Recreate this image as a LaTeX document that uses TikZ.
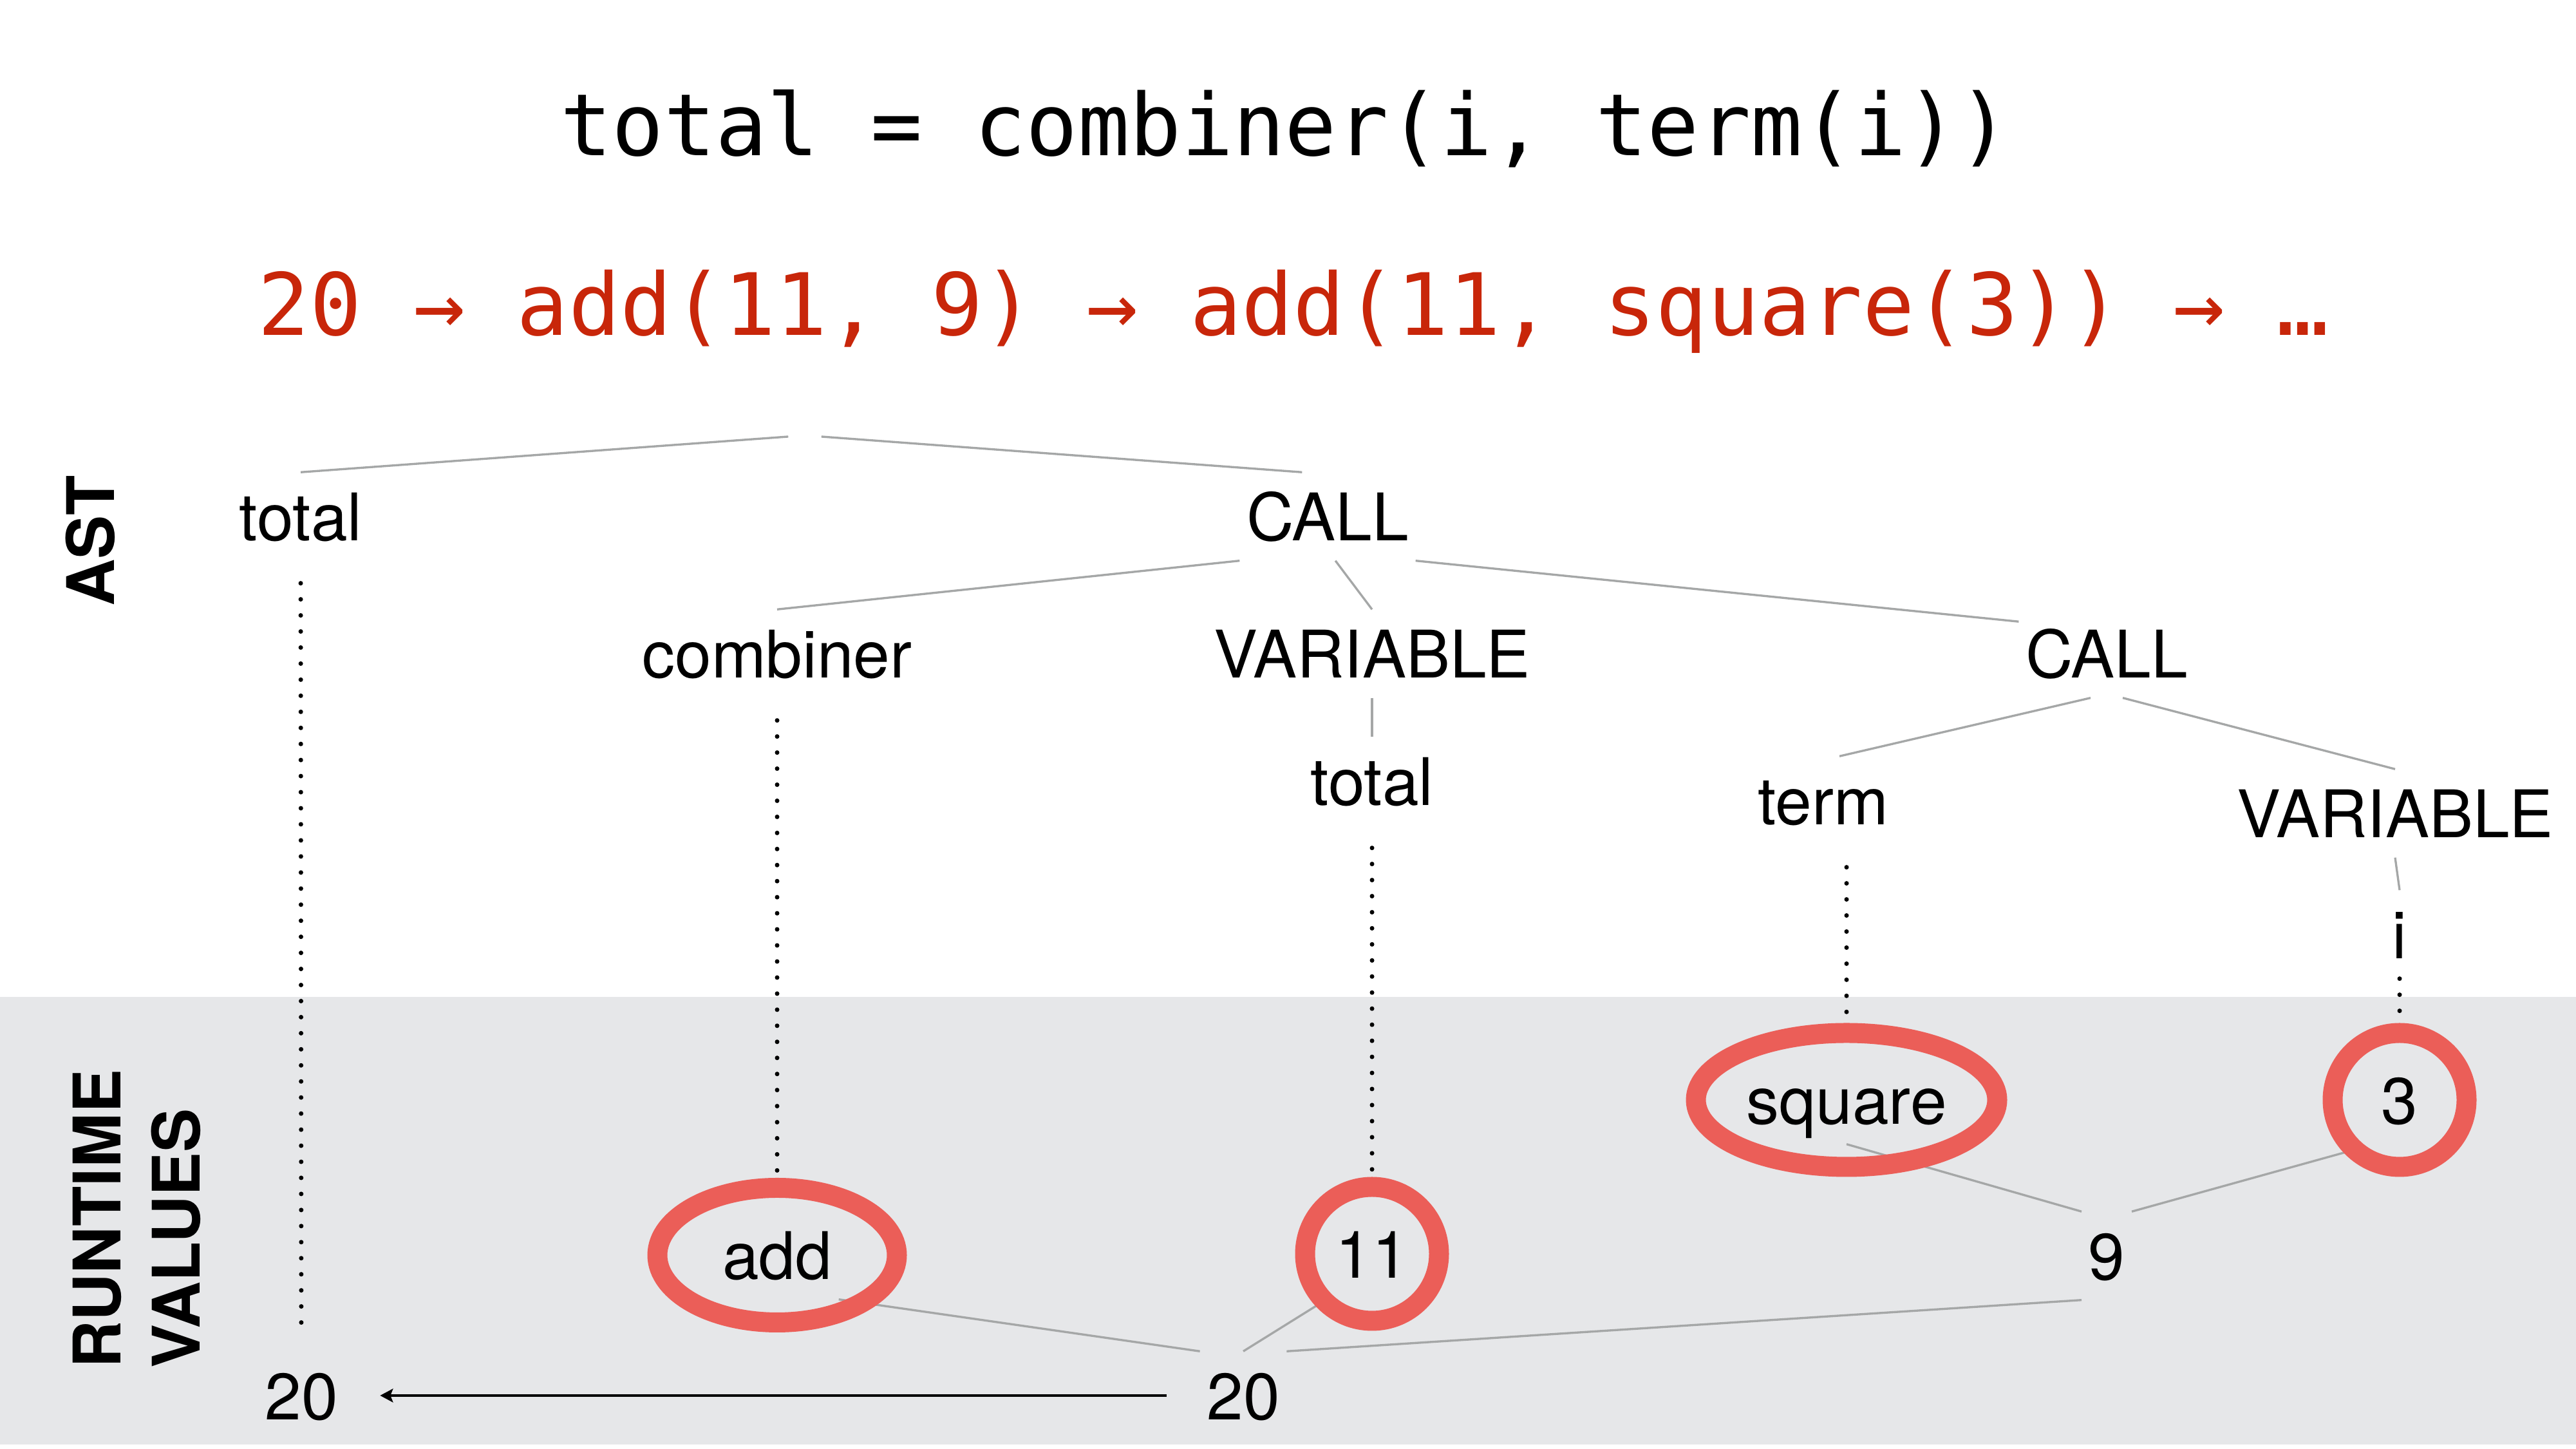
\documentclass[tikz,border=0pt]{standalone}
\usepackage{fontspec}
\setmainfont{TeX Gyre Heros}
\newfontfamily\codefont{DejaVu Sans Mono}
\usetikzlibrary{arrows.meta}

\definecolor{bandgray}{RGB}{230,231,233}
\definecolor{treegray}{RGB}{165,167,167}
\definecolor{ringred}{RGB}{235,94,88}
\definecolor{evalred}{RGB}{200,38,10}

\tikzset{
	lbl/.style={font=\fontsize{29}{35}\selectfont, anchor=base, inner xsep=0.1cm, inner ysep=0.3cm, text height=0.76cm, text depth=0cm},
	code/.style={font=\codefont\fontsize{38}{46}\selectfont, anchor=base, inner sep=0},
	side/.style={font=\fontsize{29}{35}\selectfont\bfseries, rotate=90, align=left, inner sep=0},
	edge/.style={draw=treegray, line width=0.95pt},
	link/.style={line width=2pt, line cap=round, dash pattern=on 0pt off 7.1pt, shorten <=0.35cm, shorten >=0.35cm},
	ring/.style={draw=ringred, line width=0.31cm},
	back/.style={line width=1.1pt, -{Stealth[length=0.2cm,width=0.21cm,inset=0.04cm]}, shorten <=0.52cm, shorten >=0.55cm}
}

\begin{document}
\begin{tikzpicture}
			\useasboundingbox (0, 0) rectangle (40.01, 22.5);
			%%%%% SOURCE %%%%%
			\node[code] (src) at (19.96, 20.08) {total = combiner(i, term(i))};
			\node[code, text=evalred] (steps) at (20.09, 17.29) {20 → add(11, 9) → add(11, square(3)) → …};
			
			%%%%% BAND %%%%%
			\fill[bandgray] (0, 0.07) rectangle (40.01, 7.02);
			\node[side] (astlbl) at (1.40, 14.10) {AST};
			\node[side] (rtlbl) at (2.12, 3.57) {RUNTIME\\VALUES};
			
			%%%%% AST %%%%%
			\node[minimum width=0.5cm, inner sep=0] (root) at (12.50, 15.72) {};
			\node[lbl] (total1) at (4.67, 14.10) {total};
			\node[lbl] (call1) at (20.62, 14.10) {CALL};
			\node[lbl] (combiner) at (12.07, 11.97) {combiner};
			\node[lbl] (var1) at (21.31, 11.97) {VARIABLE};
			\node[lbl] (call2) at (32.72, 11.97) {CALL};
			\node[lbl] (total2) at (21.31, 9.99) {total};
			\node[lbl] (term) at (28.32, 9.69) {term};
			\node[lbl] (var2) at (37.20, 9.49) {VARIABLE};
			\node[lbl] (i) at (37.27, 7.61) {i};
			
			\draw[edge] (root.west) -- (total1.north);
			\draw[edge] (root.east) -- (call1.120);
			\draw[edge] (call1.south west) -- (combiner.north);
			\draw[edge] (call1.-80) -- (var1.north);
			\draw[edge] (call1.south east) -- (call2.160);
			\draw[edge] (var1.south) -- (total2.north);
			\draw[edge] (call2.-110) -- (term.70);
			\draw[edge] (call2.-70) -- (var2.north);
			\draw[edge] (var2.south) -- (i.north);
			
			%%%%% VALUES %%%%%
			\node[lbl] (add) at (12.07, 2.63) {add};
			\node[lbl] (eleven) at (21.31, 2.65) {11};
			\node[lbl] (square) at (28.68, 5.04) {square};
			\node[lbl] (three) at (37.27, 5.04) {3};
			\node[lbl] (nine) at (32.72, 2.62) {9};
			\node[lbl] (sum) at (19.31, 0.45) {20};
			\node[lbl] (result) at (4.68, 0.45) {20};
			
			\draw[link] (total1.south) -- (result.north);
			\draw[link] (combiner.south) -- (add.north);
			\draw[link] (total2.south) -- (eleven.north);
			\draw[link] (term.south -| square) -- (square.north);
			\draw[link, shorten <=0pt] (i.south) -- (three.north);
			
			\draw[edge] (add.south east) -- (sum.north west);
			\draw[edge] (sum.north) -- (eleven.south west);
			\draw[edge] (sum.north east) -- (nine.south west);
			\draw[edge] (square.south) -- (nine.north west);
			\draw[edge, shorten <=0.25cm] (three.south west) -- (nine.north east);
			\draw[back] (sum.west) -- (result.east);
			
			%%%%% RINGS %%%%%
			\draw[ring] (add) ellipse (1.86 and 1.045);
			\draw[ring] (eleven) circle (1.04);
			\draw[ring] (square) ellipse (2.34 and 1.04);
			\draw[ring] (three) circle (1.04);
		\end{tikzpicture}
\end{document}
